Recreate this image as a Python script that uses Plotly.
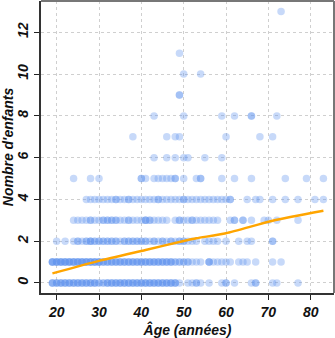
import plotly.graph_objects as go

# Ages of respondents, grouped by their number of children (repeats = several people)
ages_0 = [19, 19, 19, 20, 20, 20, 21, 21, 21, 22, 22, 22, 23, 23, 23, 24, 24, 24, 25, 25,
          25, 26, 26, 26, 27, 27, 27, 28, 28, 28, 29, 29, 29, 30, 30, 31, 31, 32, 32, 32,
          33, 33, 33, 34, 34, 34, 35, 35, 35, 36, 36, 36, 37, 37, 37, 38, 38, 38, 39, 39,
          39, 40, 40, 40, 41, 41, 41, 42, 42, 42, 43, 43, 43, 44, 44, 44, 45, 45, 45, 46,
          46, 46, 47, 47, 47, 48, 48, 48, 49, 51, 52, 53, 53, 54, 56, 59, 60, 60, 62, 66,
          67, 67, 71, 72, 77]
ages_1 = [19, 19, 19, 19, 20, 20, 20, 20, 21, 21, 21, 21, 22, 22, 22, 22, 23, 23, 23, 23,
          24, 24, 24, 24, 25, 25, 25, 25, 26, 26, 26, 26, 27, 27, 27, 27, 28, 28, 28, 28,
          29, 29, 29, 29, 30, 30, 30, 30, 31, 31, 31, 32, 32, 32, 33, 33, 33, 34, 34, 34,
          35, 35, 35, 36, 36, 36, 37, 37, 37, 38, 38, 38, 39, 39, 39, 40, 40, 40, 41, 41,
          41, 42, 42, 42, 43, 43, 43, 44, 44, 44, 45, 45, 45, 46, 46, 46, 47, 47, 47, 48,
          48, 49, 49, 50, 50, 51, 51, 52, 53, 54, 56, 56, 56, 57, 58, 59, 60, 61, 63, 64,
          65, 67, 71, 73]
ages_2 = [20, 22, 24, 25, 25, 26, 27, 27, 28, 28, 28, 29, 29, 30, 30, 31, 31, 32, 32, 33,
          33, 34, 34, 35, 36, 36, 37, 37, 38, 38, 39, 39, 40, 40, 41, 41, 42, 43, 43, 44,
          45, 45, 46, 47, 47, 48, 49, 49, 50, 50, 51, 52, 53, 55, 56, 57, 58, 60, 63, 65,
          66, 71, 71]
ages_3 = [24, 25, 26, 27, 28, 28, 29, 30, 31, 31, 32, 32, 33, 33, 34, 34, 35, 36, 37, 37,
          38, 39, 40, 41, 41, 41, 42, 42, 43, 44, 45, 46, 48, 49, 49, 50, 51, 52, 52, 53,
          54, 55, 56, 57, 58, 61, 62, 62, 64, 64, 66, 69, 70, 72, 77]
ages_4 = [27, 28, 29, 30, 31, 32, 33, 34, 34, 35, 36, 37, 37, 38, 39, 40, 41, 42, 43, 44,
          44, 45, 46, 47, 48, 49, 50, 50, 51, 52, 53, 54, 55, 56, 57, 58, 59, 60, 61, 61,
          65, 67, 68, 71, 74, 77, 81, 83]
ages_5 = [24, 28, 30, 40, 40, 41, 43, 44, 45, 46, 47, 48, 48, 50, 53, 54, 54, 59, 62, 66,
          74, 79, 83]
ages_6 = [43, 46, 48, 50, 51, 55, 59]
ages_7 = [38, 46, 48, 49, 60, 68, 71]
ages_8 = [43, 50, 59, 62, 66, 66, 72]
ages_9 = [49, 49]
ages_10 = [50, 54]
ages_11 = [49]
ages_13 = [73]

children_levels = [0, 1, 2, 3, 4, 5, 6, 7, 8, 9, 10, 11, 13]
ages_by_level = [ages_0, ages_1, ages_2, ages_3, ages_4, ages_5, ages_6,
                 ages_7, ages_8, ages_9, ages_10, ages_11, ages_13]

# Smoothed trend of number of children against age
fit_age = [19, 30, 41, 50, 53, 60, 71, 83]
fit_children = [0.46, 1.06, 1.58, 2.01, 2.14, 2.38, 2.98, 3.46]

x_ticks = [20, 30, 40, 50, 60, 70, 80]
y_ticks = [0, 2, 4, 6, 8, 10, 12]

age, children = [], []
for level, ages in zip(children_levels, ages_by_level):
    age += ages
    children += [level] * len(ages)

bold_italic = dict(family="Liberation Sans, Arial, sans-serif", size=14,
                   color="#111111", weight="bold", style="italic")

fig = go.Figure()
fig.add_trace(go.Scatter(
    x=age, y=children, mode="markers",
    marker=dict(size=7.5, color="#6495ED", opacity=0.36, line=dict(width=0)),
    hoverinfo="skip", showlegend=False,
))
fig.add_trace(go.Scatter(
    x=fit_age, y=fit_children, mode="lines",
    line=dict(color="#FFA500", width=2.4, shape="spline", smoothing=0.6),
    hoverinfo="skip", showlegend=False,
))

axis_style = dict(showgrid=True, gridcolor="#cfcfcf", griddash="dot", gridwidth=1,
                  zeroline=False, ticks="outside", ticklen=5, tickwidth=1.2,
                  tickcolor="#222222", showline=True, linecolor="#333333", linewidth=2,
                  mirror=False, tickfont=bold_italic, automargin=False)

fig.update_layout(
    width=335, height=338, autosize=False,
    margin=dict(l=41, r=1, t=1, b=45, autoexpand=False),
    paper_bgcolor="white", plot_bgcolor="white", showlegend=False,
    xaxis=dict(range=[16.3, 85.5], tickvals=x_ticks, **axis_style,
               title=dict(text="Âge (années)", font=bold_italic, standoff=6)),
    yaxis=dict(range=[-0.48, 13.5], tickvals=y_ticks, tickangle=-90, **axis_style,
               title=dict(text="Nombre d'enfants", font=bold_italic, standoff=4)),
    shapes=[
        # top and right edges of the frame
        dict(type="line", xref="paper", yref="paper", x0=0, y0=1, x1=1, y1=1,
             line=dict(color="#777777", width=2), layer="above"),
        dict(type="line", xref="paper", yref="paper", x0=1, y0=0, x1=1, y1=1,
             line=dict(color="#777777", width=2), layer="above"),
    ],
)

fig.write_html("out.html")
